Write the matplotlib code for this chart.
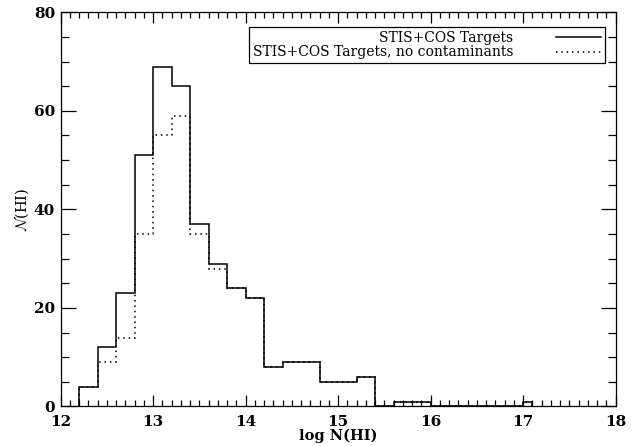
import numpy as np
import matplotlib
matplotlib.use("Agg")
import matplotlib.pyplot as plt
from matplotlib.ticker import MultipleLocator

# histogram of log N(HI), 0.2 dex bins (last one is half width)
bin_edges = [12.2, 12.4, 12.6, 12.8, 13.0, 13.2, 13.4, 13.6, 13.8, 14.0,
             14.2, 14.4, 14.6, 14.8, 15.0, 15.2, 15.4, 15.6, 15.8, 16.0,
             16.2, 16.4, 16.6, 16.8, 17.0, 17.1]
n_all = [4, 12, 23, 51, 69, 65, 37, 29, 24, 22, 8, 9, 9, 5, 5, 6, 0, 1, 1,
         0, 0, 0, 0, 0, 1]
n_clean = [4, 9, 14, 35, 55, 59, 35, 28, 24, 22, 8, 9, 9, 5, 5, 6, 0, 1, 1,
           0, 0, 0, 0, 0, 1]

plt.rcParams['font.family'] = ['DejaVu Serif']
plt.rcParams['mathtext.fontset'] = 'cm'

fig = plt.figure(figsize=(6.42, 4.46), dpi=100)
ax = fig.add_axes([0.0945, 0.0886, 0.8645, 0.8838])

ax.stairs(n_clean, bin_edges, color='black', lw=1.1, ls=(0, (1, 2.5)),
          label='STIS+COS Targets, no contaminants', zorder=2)
ax.stairs(n_all, bin_edges, color='black', lw=1.1,
          label='STIS+COS Targets', zorder=3)

ax.set_xlim(12, 18)
ax.set_ylim(0, 80)
ax.xaxis.set_major_locator(MultipleLocator(1))
ax.xaxis.set_minor_locator(MultipleLocator(0.1))
ax.yaxis.set_major_locator(MultipleLocator(20))
ax.yaxis.set_minor_locator(MultipleLocator(5))
ax.tick_params(which='both', direction='in', top=True, right=True,
               labelsize=11, width=0.9)
ax.tick_params(axis='x', which='major', length=8, pad=6)
ax.tick_params(axis='x', which='minor', length=4)
ax.tick_params(axis='y', which='major', length=11, pad=4)
ax.tick_params(axis='y', which='minor', length=5.5)
for lab in ax.get_xticklabels() + ax.get_yticklabels():
    lab.set_fontweight('bold')
for s in ax.spines.values():
    s.set_linewidth(0.9)

ax.set_xlabel('log N(HI)', fontsize=10.5, fontweight='bold', labelpad=0)
ax.set_ylabel(r'$\mathcal{N}$(HI)', fontsize=10.5, labelpad=2)

h, l = ax.get_legend_handles_labels()
leg = ax.legend(h[::-1], l[::-1], loc='upper right',
                bbox_to_anchor=(0.9807, 0.962), borderaxespad=0,
                markerfirst=False, fancybox=False, framealpha=1,
                edgecolor='black', fontsize=10, handlelength=3.25,
                handletextpad=3.1, labelspacing=0.05, borderpad=0.25)
leg.get_frame().set_linewidth(0.9)

fig.savefig('out.png', dpi=100)
